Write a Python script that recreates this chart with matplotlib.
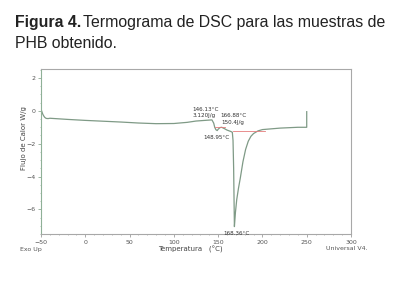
import matplotlib
matplotlib.use("Agg")
import matplotlib.pyplot as plt
from matplotlib.ticker import MultipleLocator

# Data
temp = [-50, -49, -48, -47, -46, -45, -44, -42, -40, -20, 0, 20, 40, 60, 80, 100, 115, 125, 135, 143,
        145, 146.13, 147.5, 148.95, 150, 152, 154, 157, 160, 164, 166, 166.8, 167.5, 168.0, 168.36,
        169.5, 171, 173, 175, 178, 181, 184, 187, 190, 195, 200, 220, 240, 250, 250.01]
flow = [0.1, -0.05, -0.2, -0.3, -0.38, -0.43, -0.46, -0.47, -0.45, -0.52, -0.58, -0.63, -0.68, -0.74, -0.78, -0.77, -0.70, -0.62, -0.58, -0.55,
        -0.75, -1.0, -1.15, -1.2, -1.12, -1.02, -1.0, -1.08, -1.17, -1.25, -1.3, -1.8, -3.5, -5.6, -7.05,
        -6.2, -5.4, -4.7, -4.1, -3.1, -2.35, -1.85, -1.55, -1.38, -1.22, -1.14, -1.05, -1.0, -1.0, -0.05]
base1_x = [146, 158]
base1_y = [-0.98, -0.98]
base2_x = [167, 203]
base2_y = [-1.25, -1.25]

x_ticks = [-50, 0, 50, 100, 150, 200, 250, 300]
y_ticks = [2, 0, -2, -4, -6]

fig = plt.figure(figsize=(4.0, 2.89), dpi=100)
W, H = 400.0, 289.0
fam = ['Liberation Sans Narrow', 'Liberation Sans', 'DejaVu Sans']
tfs = 11.4
fig.text(15 / W, 1 - 22 / H, "Figura 4.", fontsize=tfs, fontweight='bold', family=fam,
         color='#222222', va='center', ha='left')
fig.text(385 / W, 1 - 22 / H, "Termograma de DSC para las muestras de", fontsize=tfs, family=fam,
         color='#222222', va='center', ha='right')
fig.text(15 / W, 1 - 43 / H, "PHB obtenido.", fontsize=tfs, family=fam, color='#222222',
         va='center', ha='left')

ax = fig.add_axes([41 / W, 1 - 234 / H, 310 / W, 165 / H])
curve_col = '#7f9a86'
ax.plot(temp, flow, color=curve_col, lw=0.9, zorder=2)
ax.plot(base1_x, base1_y, color='#e57c7c', lw=0.6, zorder=3)
ax.plot(base2_x, base2_y, color='#e57c7c', lw=0.6, zorder=3)

ax.set_xlim(-50, 300)
ax.set_ylim(-7.5, 2.55)
ax.set_xticks(x_ticks)
ax.set_yticks(y_ticks)
ax.xaxis.set_minor_locator(MultipleLocator(10))
ax.yaxis.set_minor_locator(MultipleLocator(0.5))
ax.tick_params(axis='both', labelsize=4.5, length=2, width=0.5, pad=2)
ax.tick_params(axis='both', which='minor', length=1, width=0.4)
ax.tick_params(axis='y', which='both', colors='#7a9a80', labelcolor='#555555')
ax.tick_params(axis='x', which='both', colors='#888888', labelcolor='#555555')
for s in ['top', 'right', 'bottom']:
    ax.spines[s].set_color('#a8a8a8')
    ax.spines[s].set_linewidth(0.8)
ax.spines['left'].set_color('#8fb097')
ax.spines['left'].set_linewidth(0.8)

fig.text(24 / W, 1 - 138 / H, "Flujo de Calor W/g", fontsize=5, color='#444444',
         rotation=90, ha='center', va='center')
fig.text(190 / W, 1 - 249 / H, "Temperatura   (°C)", fontsize=5, color='#444444',
         ha='center', va='center')

fs = 4.1
tc = '#333333'
ax.text(120.5, 0.06, "146.13°C", fontsize=fs, color=tc, ha='left', va='center')
ax.text(121.6, -0.30, "3.120J/g", fontsize=fs, color=tc, ha='left', va='center')
ax.text(152.6, -0.30, "166.88°C", fontsize=fs, color=tc, ha='left', va='center')
ax.text(153.2, -0.73, "150.4J/g", fontsize=fs, color=tc, ha='left', va='center')
ax.text(132.9, -1.64, "148.95°C", fontsize=fs, color=tc, ha='left', va='center')
ax.text(155.5, -7.45, "168.36°C", fontsize=fs, color=tc, ha='left', va='center')

fig.text(20 / W, 1 - 250 / H, "Exo Up", fontsize=4.5, color='#555555', va='center')
fig.text(326 / W, 1 - 249 / H, "Universal V4.", fontsize=4.5, color='#555555', va='center')

fig.savefig("out.png", dpi=100)
